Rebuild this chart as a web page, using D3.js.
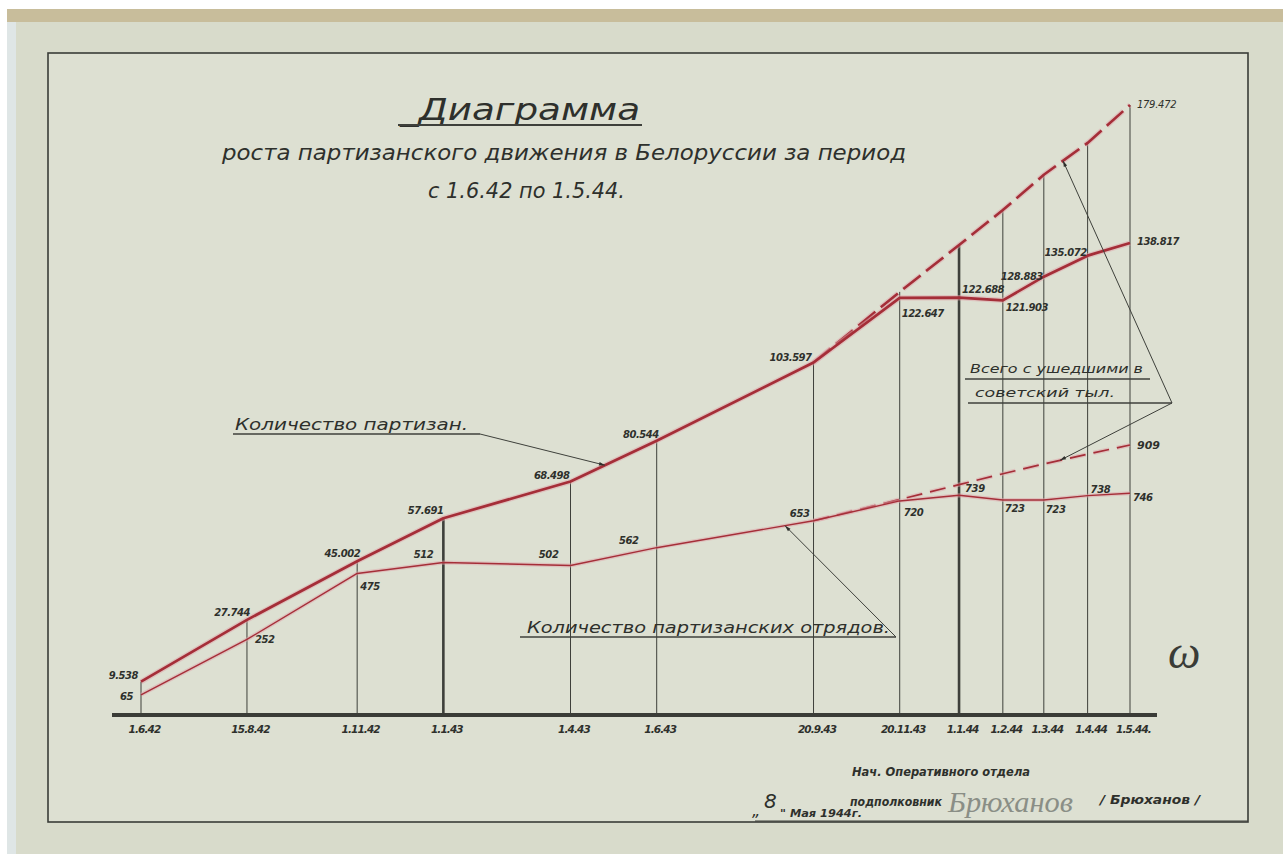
<!DOCTYPE html>
<html>
<head>
<meta charset="utf-8">
<script src="https://cdn.jsdelivr.net/npm/d3@7"></script>
<style>
  html, body { margin: 0; padding: 0; background: #ffffff; }
  svg { display: block; }
  text { font-family: "DejaVu Sans", sans-serif; font-style: italic; fill: #2e302c; }
</style>
</head>
<body>
<div id="chart"></div>
<script>
// dates of the observations (d.m.yy)
const dates = ['1942-06-01', '1942-08-15', '1942-11-01', '1943-01-01', '1943-04-01', '1943-06-01',
               '1943-09-20', '1943-11-20', '1944-01-01', '1944-02-01', '1944-03-01', '1944-04-01', '1944-05-01'];
const tickLabels = ['1.6.42', '15.8.42', '1.11.42', '1.1.43', '1.4.43', '1.6.43',
                    '20.9.43', '20.11.43', '1.1.44', '1.2.44', '1.3.44', '1.4.44', '1.5.44.'];

// number of partisans
const partisans = [9538, 27744, 45002, 57691, 68498, 80544, 103597, 122647, 122688, 121903, 128883, 135072, 138817];
// number of partisan detachments
const detachments = [65, 252, 475, 512, 502, 562, 653, 720, 739, 723, 723, 738, 746];

// "including those gone to the Soviet rear" (dashed), from 20.9.43
const totalDates = ['1943-09-20', '1943-11-20', '1944-01-01', '1944-02-01', '1944-03-01', '1944-04-01', '1944-05-01'];
const partisansTotal = [103597, 124400, 138200, 148500, 158900, 168300, 179472];
const detachmentsTotal = [653, 725, 775, 812, 845, 878, 909];

const partisanLabels = ['9.538', '27.744', '45.002', '57.691', '68.498', '80.544', '103.597',
                        '122.647', '122.688', '121.903', '128.883', '135.072', '138.817'];
const detachLabels = ['65', '252', '475', '512', '502', '562', '653', '720', '739', '723', '723', '738', '746'];

// label placement (anchor, dx, dy) next to each point
const partisanLabelPos = [['end', -3, -3], ['end', 3, -4], ['end', 3, -4], ['end', 0, -4], ['end', -1, -3],
  ['end', 2, -3], ['end', -2, -1], ['start', 2, 19], ['start', 3, -5], ['start', 3, 11], ['end', -1, 3],
  ['end', -1, 0], ['start', 7, 2]];
const detachLabelPos = [['end', -8, 5], ['start', 8, 4], ['start', 3, 17], ['end', -10, -4], ['end', -12, -7],
  ['end', -18, -4], ['end', -4, -4], ['start', 4, 15], ['start', 6, -3], ['start', 2, 12], ['start', 2, 13],
  ['start', 3, -3], ['start', 3, 8]];

const W = 1283, H = 854;
const parse = d3.timeParse('%Y-%m-%d');
const baseY = 714;

const svg = d3.select('#chart').append('svg').attr('width', W).attr('height', H);

// paper
svg.append('rect').attr('x', 0).attr('y', 0).attr('width', W).attr('height', H).attr('fill', '#ffffff');
svg.append('rect').attr('x', 7).attr('y', 9).attr('width', W - 7).attr('height', H - 9).attr('fill', '#d8dbcb');
svg.append('rect').attr('x', 7).attr('y', 9).attr('width', 9).attr('height', H - 9).attr('fill', '#dfe6e6');
svg.append('rect').attr('x', 7).attr('y', 9).attr('width', W - 7).attr('height', 13).attr('fill', '#c8bd9b');
svg.append('rect').attr('x', 48).attr('y', 53).attr('width', 1200).attr('height', 769)
  .attr('fill', '#dde0d2').attr('stroke', '#3a3d38').attr('stroke-width', 1.6);

// scales
const x = d3.scaleTime()
  .domain([parse(dates[0]), parse(dates[dates.length - 1])])
  .range([141, 1130]);
const yP = d3.scaleLinear().domain([0, 179472]).range([baseY, 105]);
const yD = d3.scaleLinear().domain([0, 909]).range([baseY, 445]);

const pts = dates.map((d, i) => ({ t: parse(d), p: partisans[i], n: detachments[i] }));
const totPts = totalDates.map((d, i) => ({ t: parse(d), p: partisansTotal[i], n: detachmentsTotal[i] }));

// vertical lines up to the highest curve at each date
const topVal = d => {
  const tp = totPts.find(q => +q.t === +d.t);
  return tp ? Math.max(tp.p, d.p) : d.p;
};
svg.append('g').selectAll('line')
  .data(pts)
  .join('line')
  .attr('x1', d => x(d.t)).attr('x2', d => x(d.t))
  .attr('y1', baseY).attr('y2', d => yP(topVal(d)))
  .attr('stroke', '#3e403b')
  .attr('stroke-width', (d, i) => (i === 3 || i === 8) ? 2.6 : 1);

// x axis
const axis = d3.axisBottom(x)
  .tickValues(pts.map(d => d.t))
  .tickFormat((d, i) => tickLabels[i])
  .tickSize(0)
  .tickPadding(12);
const gx = svg.append('g').attr('transform', `translate(0,${baseY})`).call(axis);
gx.select('.domain').remove();
gx.selectAll('text')
  .attr('font-size', 10.5).attr('font-style', 'italic').attr('font-weight', 'bold')
  .attr('font-family', '"DejaVu Sans", sans-serif').attr('fill', '#2e302c')
  .attr('letter-spacing', -0.9)
  .attr('dx', 3);
svg.append('line').attr('x1', 112).attr('x2', 1157).attr('y1', baseY + 1).attr('y2', baseY + 1)
  .attr('stroke', '#3a3c37').attr('stroke-width', 4);

// lines
const lineP = d3.line().x(d => x(d.t)).y(d => yP(d.p));
const lineD = d3.line().x(d => x(d.t)).y(d => yD(d.n));
const red = '#a52e38', halo = '#e0a4aa';

function drawLine(data, gen, w, dash) {
  svg.append('path').datum(data).attr('d', gen).attr('fill', 'none')
    .attr('stroke', halo).attr('stroke-width', w + 2.5).attr('stroke-opacity', 0.5)
    .attr('stroke-dasharray', dash || null);
  svg.append('path').datum(data).attr('d', gen).attr('fill', 'none')
    .attr('stroke', red).attr('stroke-width', w).attr('stroke-linejoin', 'round')
    .attr('stroke-dasharray', dash || null);
}
drawLine(totPts, lineP, 2.6, '22,7');
drawLine(totPts, lineD, 1.7, '16,8');
drawLine(pts, lineP, 2.7);
drawLine(pts, lineD, 1.4);

// value labels
svg.append('g').selectAll('text')
  .data(pts)
  .join('text')
  .attr('x', (d, i) => x(d.t) + partisanLabelPos[i][1])
  .attr('y', (d, i) => yP(d.p) + partisanLabelPos[i][2])
  .attr('text-anchor', (d, i) => partisanLabelPos[i][0])
  .attr('font-size', 10).attr('font-weight', 'bold').attr('letter-spacing', -0.5)
  .text((d, i) => partisanLabels[i]);
const lastTot = totPts[totPts.length - 1];
svg.append('text').attr('x', x(lastTot.t) + 7).attr('y', yP(lastTot.p) + 3)
  .attr('font-size', 10).attr('letter-spacing', -0.3).text('179.472');

svg.append('g').selectAll('text')
  .data(pts)
  .join('text')
  .attr('x', (d, i) => x(d.t) + detachLabelPos[i][1])
  .attr('y', (d, i) => yD(d.n) + detachLabelPos[i][2])
  .attr('text-anchor', (d, i) => detachLabelPos[i][0])
  .attr('font-size', 10).attr('font-weight', 'bold').attr('letter-spacing', -0.4)
  .text((d, i) => detachLabels[i]);
svg.append('text').attr('x', x(lastTot.t) + 7).attr('y', yD(lastTot.n) + 4)
  .attr('font-size', 11).attr('font-weight', 'bold').text('909');

// point on a polyline at a given screen x
function yAt(data, yScale, key, px) {
  for (let i = 1; i < data.length; i++) {
    const x0 = x(data[i - 1].t), x1 = x(data[i].t);
    if (px >= x0 && px <= x1) {
      const f = (px - x0) / (x1 - x0);
      return yScale(data[i - 1][key]) + f * (yScale(data[i][key]) - yScale(data[i - 1][key]));
    }
  }
  return null;
}

svg.append('defs').append('marker')
  .attr('id', 'arr').attr('viewBox', '0 0 10 10').attr('refX', 10).attr('refY', 5)
  .attr('markerWidth', 9).attr('markerHeight', 6).attr('orient', 'auto-start-reverse')
  .append('path').attr('d', 'M0,2 L10,5 L0,8 Z').attr('fill', '#2e302c');

function leader(x1, y1, x2, y2) {
  svg.append('line').attr('x1', x1).attr('y1', y1).attr('x2', x2).attr('y2', y2)
    .attr('stroke', '#3e403b').attr('stroke-width', 1).attr('marker-end', 'url(#arr)');
}
function uline(x1, x2, y, w) {
  svg.append('line').attr('x1', x1).attr('x2', x2).attr('y1', y).attr('y2', y)
    .attr('stroke', '#3e403b').attr('stroke-width', w || 1.4);
}
function label(t, px, py, size, len, opts) {
  const el = svg.append('text').attr('x', px).attr('y', py).attr('font-size', size).text(t);
  if (len) el.attr('textLength', len).attr('lengthAdjust', 'spacingAndGlyphs');
  if (opts && opts.weight) el.attr('font-weight', opts.weight);
  if (opts && opts.fill) el.style('fill', opts.fill);
  if (opts && opts.family) el.style('font-family', opts.family);
  return el;
}

// annotations
label('Количество партизан.', 235, 430, 15, 233);
uline(233, 480, 434);
leader(480, 434, 605, yAt(pts, yP, 'p', 605));

label('Количество партизанских отрядов.', 527, 633, 15, 363);
uline(520, 896, 637);
leader(896, 637, 785, yAt(pts, yD, 'n', 785));

label('Всего с ушедшими в', 970, 373, 12.5, 173);
uline(965, 1150, 379);
label('советский тыл.', 975, 397, 12.5, 140);
uline(968, 1172, 403);
leader(1172, 403, 1063, yAt(totPts, yP, 'p', 1063));
leader(1172, 403, 1060, yAt(totPts, yD, 'n', 1060));

// title
label('_Диаграмма', 400, 120, 30, 240);
uline(398, 642, 125, 2);
label('роста партизанского движения в Белоруссии за период', 222, 160, 22, 684);
label('с 1.6.42 по 1.5.44.', 428, 198, 22, 197);

// signature block
label('Нач. Оперативного отдела', 852, 776, 11.5, 178, { weight: 'bold' });
label('подполковник', 850, 806, 11.5, 92, { weight: 'bold' });
label('/ Брюханов /', 1100, 804, 11.5, 100, { weight: 'bold' });
label('Брюханов', 948, 812, 30, 125, { fill: '#8a8e86', family: '"Liberation Serif", serif' });
label('„', 752, 816, 16);
label('8', 764, 808, 20, null);
label('" Мая 1944г.', 780, 817, 11, 82, { weight: 'bold' });
uline(755, 1248, 821, 1.2);
label('ω', 1168, 668, 46, null, { fill: '#3a3c37', family: '"Liberation Serif", serif' });
</script>
</body>
</html>
